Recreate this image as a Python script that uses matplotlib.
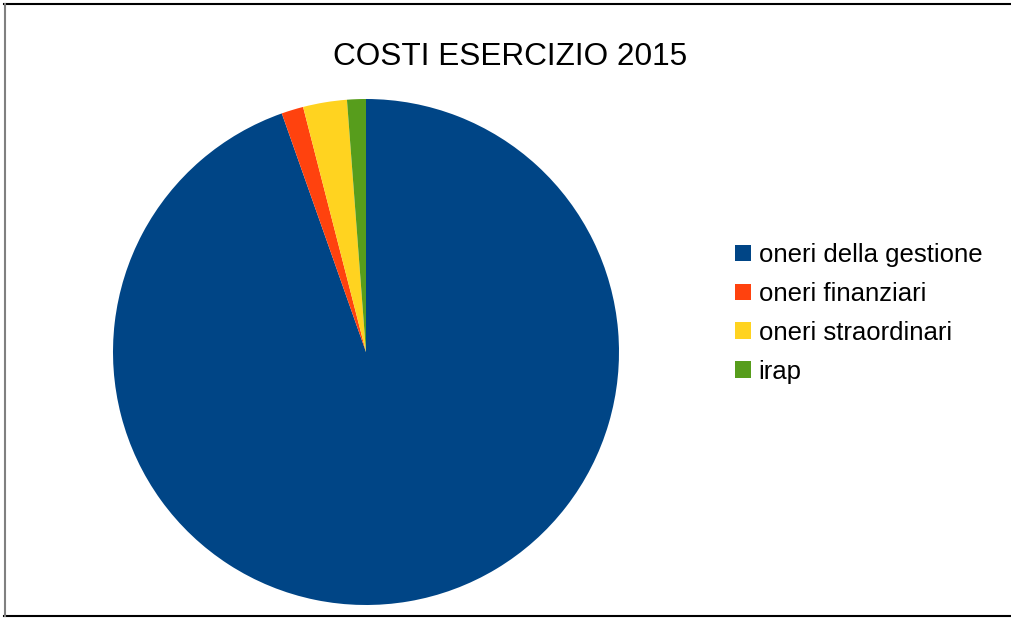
import matplotlib
matplotlib.use('Agg')
import matplotlib.pyplot as plt
from matplotlib.patches import Patch
from matplotlib.lines import Line2D

plt.rcParams['font.family'] = ['Liberation Sans', 'DejaVu Sans']

labels = ['oneri della gestione', 'oneri finanziari', 'oneri straordinari', 'irap']
values = [94.6, 1.4, 2.8, 1.2]
colors = ['#004586', '#ff420e', '#ffd320', '#579d1c']

W, H = 1011, 619
fig = plt.figure(figsize=(W / 100, H / 100), dpi=100)

# pie centre and radius in pixels
cx, cy, r = 366, 352, 253
ax = fig.add_axes([(cx - r) / W, (H - cy - r) / H, 2 * r / W, 2 * r / H])
ax.pie(values, colors=colors, startangle=90, counterclock=False,
       wedgeprops={'linewidth': 0})
ax.set_xlim(-1, 1)
ax.set_ylim(-1, 1)
ax.set_aspect('equal')
ax.axis('off')

fig.text(510 / W, 1 - 57 / H, 'COSTI ESERCIZIO 2015', ha='center', va='center',
         fontsize=22.7)

handles = [Patch(facecolor=c, edgecolor='none') for c in colors]
fig.legend(handles, labels, loc='upper left', bbox_to_anchor=(735 / W, 1 - 243 / H),
           frameon=False, fontsize=18.5, handlelength=0.62, handleheight=0.62,
           handletextpad=0.3, labelspacing=0.58, borderpad=0, borderaxespad=0)

# outer border (right edge is cut off)
fig.add_artist(Line2D([4 / W, 1], [1 - 4 / H, 1 - 4 / H], color='black', lw=1.5,
                      transform=fig.transFigure))
fig.add_artist(Line2D([4 / W, 1], [1 - 616 / H, 1 - 616 / H], color='black', lw=1.5,
                      transform=fig.transFigure))
fig.add_artist(Line2D([4.5 / W, 4.5 / W], [1 - 4 / H, 1 - 616 / H], color='#808080',
                      lw=1.5, transform=fig.transFigure))

fig.savefig('out.png', dpi=100)
